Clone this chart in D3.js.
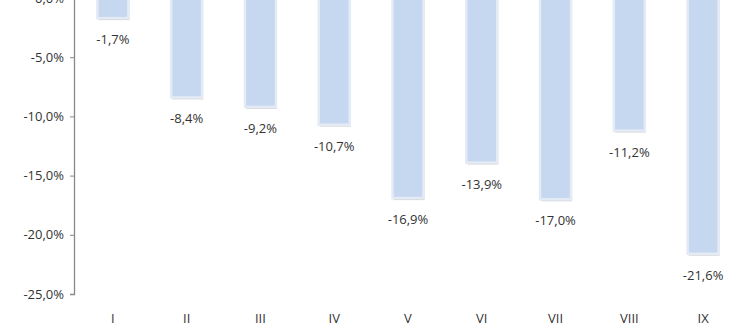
<!DOCTYPE html>
<html>
<head>
<meta charset="utf-8">
<script src="https://cdn.jsdelivr.net/npm/d3@7"></script>
<style>
  body { margin: 0; background: #fff; }
  text { font-family: "Open Sans", "Noto Sans", sans-serif; fill: #333; }
</style>
</head>
<body>
<svg id="chart" width="742" height="331"></svg>
<script>
// months and percent change
var months = ['I', 'II', 'III', 'IV', 'V', 'VI', 'VII', 'VIII', 'IX'];
var values = [-1.7, -8.4, -9.2, -10.7, -16.9, -13.9, -17.0, -11.2, -21.6];
var yTicks = [0, -5, -10, -15, -20, -25];

var svg = d3.select('#chart');
var plotLeft = 74, plotRight = 740, plotTop = -2, plotBottom = 294;

var x = d3.scaleBand()
    .domain(months)
    .range([plotLeft + 2, plotRight])
    .paddingInner(0.58)
    .paddingOuter(0.29);

var y = d3.scaleLinear()
    .domain([0, -25])
    .range([plotTop, plotBottom]);

function fmt(v) {
  return d3.format('.1f')(v).replace('.', ',').replace('−', '-') + '%';
}

// bars
var bars = svg.append('g').selectAll('g')
    .data(values)
  .enter().append('g');

// soft shadow under each bar
bars.append('rect')
    .attr('x', function(d, i) { return x(months[i]) + 1; })
    .attr('y', y(0) + 2)
    .attr('width', x.bandwidth())
    .attr('height', function(d) { return y(d) - y(0); })
    .attr('fill', '#b9bcc2')
    .attr('opacity', 0.6);

bars.append('rect')
    .attr('x', function(d, i) { return x(months[i]); })
    .attr('y', y(0))
    .attr('width', x.bandwidth())
    .attr('height', function(d) { return y(d) - y(0); })
    .attr('fill', '#c6d7f0')
    .attr('stroke', '#e4ebf5')
    .attr('stroke-width', 2.5);

bars.append('text')
    .attr('x', function(d, i) { return x(months[i]) + x.bandwidth() / 2; })
    .attr('y', function(d) { return y(d) + 26; })
    .attr('text-anchor', 'middle')
    .style('font-size', '13px')
    .text(fmt);

// y axis
var yAxis = d3.axisLeft(y)
    .tickValues(yTicks)
    .tickSize(4)
    .tickFormat(fmt);

var ag = svg.append('g')
    .attr('transform', 'translate(' + plotLeft + ',0)')
    .call(yAxis);
ag.select('.domain').attr('stroke', '#888').attr('stroke-width', 1.3);
ag.selectAll('.tick line').attr('stroke', '#888');
ag.selectAll('.tick text')
    .attr('x', -10)
    .style('font-size', '13px')
    .style('font-family', '"Open Sans", sans-serif')
    .attr('fill', '#333');

// x labels
svg.append('g').selectAll('text')
    .data(months)
  .enter().append('text')
    .attr('x', function(d) { return x(d) + x.bandwidth() / 2; })
    .attr('y', 323)
    .attr('text-anchor', 'middle')
    .style('font-size', '13px')
    .text(function(d) { return d; });
</script>
</body>
</html>
